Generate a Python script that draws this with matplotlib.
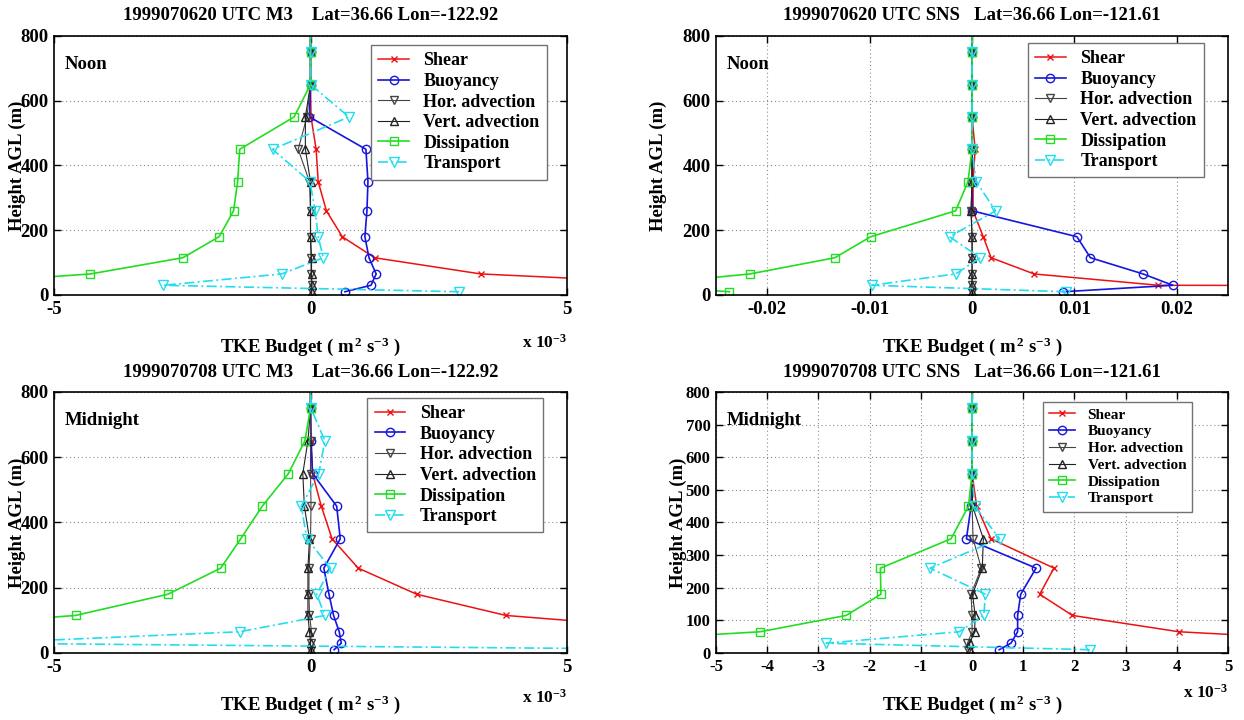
import matplotlib
matplotlib.use('Agg')
import matplotlib.pyplot as plt
from matplotlib.ticker import FuncFormatter
import numpy as np

plt.rcParams['font.family'] = ['Liberation Serif', 'DejaVu Serif']
plt.rcParams['font.weight'] = 'bold'
plt.rcParams['axes.unicode_minus'] = False
plt.rcParams['mathtext.fontset'] = 'custom'
plt.rcParams['mathtext.rm'] = 'Liberation Serif:bold'
plt.rcParams['mathtext.it'] = 'Liberation Serif:bold'
plt.rcParams['mathtext.bf'] = 'Liberation Serif:bold'
plt.rcParams['mathtext.default'] = 'rm'

# model levels (m AGL); the last one is above the plotted range
heights = [10, 30, 65, 115, 180, 260, 350, 450, 550, 650, 750, 850]

# M3 noon, units of 1e-3 m2 s-3
m3_noon_shear = [12.0, 8.0, 3.32, 1.25, 0.62, 0.31, 0.15, 0.11, 0.01, 0.0, 0.0, 0.0]
m3_noon_buoy = [0.67, 1.18, 1.28, 1.14, 1.06, 1.10, 1.12, 1.08, -0.02, 0.0, 0.0, 0.0]
m3_noon_hadv = [0.02, 0.02, 0.01, 0.01, 0.0, 0.0, -0.02, -0.24, -0.07, 0.0, 0.0, 0.0]
m3_noon_vadv = [0.02, 0.03, 0.02, 0.02, 0.0, 0.0, 0.0, -0.10, -0.10, 0.0, 0.0, 0.0]
m3_noon_diss = [-12.0, -7.4, -4.29, -2.49, -1.78, -1.50, -1.42, -1.38, -0.32, 0.0, 0.0, 0.0]
m3_noon_trans = [2.9, -2.87, -0.56, 0.25, 0.15, 0.09, -0.01, -0.74, 0.75, 0.0, 0.0, 0.0]

# SNS noon, m2 s-3
sns_noon_shear = [0.40, 0.0182, 0.00605, 0.00186, 0.00109, 0.0001, 0.0001, 0.0003, 0.0, 0.0, 0.0, 0.0]
sns_noon_buoy = [0.0089, 0.0196, 0.0167, 0.01156, 0.01024, 0.0, 0.0, 0.0, 0.0, 0.0, 0.0, 0.0]
sns_noon_hadv = [0.0, 0.0, 0.0, 0.0, 0.0, -0.0001, 0.0, 0.0, 0.0, 0.0, 0.0, 0.0]
sns_noon_vadv = [0.0, 0.0, 0.0, 0.0, 0.0, -0.0001, 0.0, 0.0, 0.0, 0.0, 0.0, 0.0]
sns_noon_diss = [-0.0237, -0.033, -0.0217, -0.0134, -0.0099, -0.0016, -0.0004, 0.0, 0.0, 0.0, 0.0, 0.0]
sns_noon_trans = [0.0092, -0.0098, -0.0016, 0.0008, -0.0022, 0.0023, 0.0004, 0.0, 0.0, 0.0, 0.0, 0.0]

# M3 midnight, units of 1e-3 m2 s-3
m3_night_shear = [15.0, 12.0, 7.8, 3.81, 2.07, 0.93, 0.42, 0.21, 0.04, 0.01, 0.0, 0.0]
m3_night_buoy = [0.46, 0.60, 0.56, 0.45, 0.36, 0.26, 0.58, 0.51, 0.04, 0.01, 0.0, 0.0]
m3_night_hadv = [0.0, 0.0, 0.02, -0.02, -0.03, -0.03, 0.0, 0.01, 0.0, 0.0, 0.0, 0.0]
m3_night_vadv = [0.0, 0.0, -0.02, -0.05, -0.05, -0.05, -0.02, -0.12, -0.15, -0.05, 0.0, 0.0]
m3_night_diss = [-16.0, -13.0, -8.8, -4.58, -2.78, -1.75, -1.36, -0.94, -0.43, -0.11, 0.0, 0.0]
m3_night_trans = [8.0, -6.45, -1.38, 0.28, 0.12, 0.39, -0.07, -0.18, 0.16, 0.28, 0.01, 0.0]

# SNS midnight, units of 1e-3 m2 s-3
sns_night_shear = [12.0, 8.2, 4.04, 1.96, 1.32, 1.60, 0.37, 0.09, 0.0, 0.0, 0.0, 0.0]
sns_night_buoy = [0.53, 0.76, 0.89, 0.89, 0.95, 1.25, -0.11, -0.02, 0.0, 0.0, 0.0, 0.0]
sns_night_hadv = [-0.08, -0.09, 0.0, 0.0, -0.02, 0.18, 0.02, 0.0, 0.0, 0.0, 0.0, 0.0]
sns_night_vadv = [-0.04, -0.05, 0.05, 0.06, 0.01, 0.20, 0.22, 0.01, 0.0, 0.0, 0.0, 0.0]
sns_night_diss = [-12.0, -7.9, -4.14, -2.46, -1.78, -1.79, -0.41, -0.07, 0.0, 0.0, 0.0, 0.0]
sns_night_trans = [2.3, -2.85, -0.25, 0.23, 0.26, -0.82, 0.54, 0.05, 0.0, 0.0, 0.0, 0.0]

names = ['Shear', 'Buoyancy', 'Hor. advection', 'Vert. advection', 'Dissipation', 'Transport']
colors = ['#ee1111', '#1515dd', '#444444', '#222222', '#22dd22', '#22ddee']
markers = ['x', 'o', 'v', '^', 's', 'v']
msizes = [5, 6, 6, 6, 5.5, 6.5]
styles = ['-', '-', '-', '-', '-', (0, (6, 2, 1.2, 2))]
lwidths = [1.1, 1.2, 0.8, 0.8, 1.2, 1.2]

xlab = 'TKE Budget ( m$^{\\,2}$ s$^{-3}$ )'
ylab = 'Height AGL (m)'
FS = 13.5


def panel(pos, series, title, tag, xlim, xticks, yticks, xgrid, leg_anchor, leg_fs,
          tick_fs, ylab_x, title_y, sci_y, fmt):
    ax = fig.add_axes(pos)
    for i in range(6):
        ax.plot(series[i], heights, color=colors[i], marker=markers[i], ms=msizes[i],
                mfc='none', mew=1.0, lw=lwidths[i], ls=styles[i], label=names[i],
                clip_on=True)
    ax.set_xlim(xlim)
    ax.set_ylim(0, 800)
    ax.set_xticks(xticks)
    ax.set_yticks(yticks)
    ax.xaxis.set_major_formatter(FuncFormatter(fmt))
    ax.tick_params(direction='in', top=True, right=True, length=5, width=1,
                   labelsize=tick_fs, pad=4)
    for s in ax.spines.values():
        s.set_linewidth(1.2)
    ax.grid(axis='y', ls=(0, (1, 2.5)), color='0.55', lw=0.8)
    if xgrid:
        ax.grid(axis='x', ls=(0, (1, 2.5)), color='0.55', lw=0.8)
    ax.set_title(title, fontsize=FS, fontweight='bold', y=title_y, pad=0)
    ax.text(0.02, 0.89, tag, transform=ax.transAxes, fontsize=FS, fontweight='bold',
            va='center')
    ax.set_xlabel(xlab, fontsize=FS, fontweight='bold', va='center')
    ax.xaxis.set_label_coords(0.5, -0.2)
    ax.set_ylabel(ylab, fontsize=FS, fontweight='bold', va='center')
    ax.yaxis.set_label_coords(ylab_x, 0.5)
    if sci_y is not None:
        ax.text(1.0, sci_y, 'x 10$^{-3}$', transform=ax.transAxes, ha='right',
                va='baseline', fontsize=FS - 1, fontweight='bold')
    leg = ax.legend(loc='upper left', bbox_to_anchor=leg_anchor, borderaxespad=0,
                    fontsize=leg_fs, fancybox=False, framealpha=1, edgecolor='0.45',
                    handlelength=1.7, labelspacing=0.2, borderpad=0.4,
                    handletextpad=0.8, numpoints=1)
    leg.get_frame().set_linewidth(1.0)
    return ax


fig = plt.figure(figsize=(12.44, 7.2), dpi=100)

f_int = lambda v, p: '%g' % v
f_small = lambda v, p: '0' if abs(v) < 1e-12 else '%g' % v

panel([0.0434, 0.5903, 0.4124, 0.3597],
      [m3_noon_shear, m3_noon_buoy, m3_noon_hadv, m3_noon_vadv, m3_noon_diss, m3_noon_trans],
      '1999070620 UTC M3    Lat=36.66 Lon=-122.92', 'Noon',
      (-5, 5), [-5, 0, 5], [0, 200, 400, 600, 800], False, (0.618, 0.965), 13,
      FS, -0.072, 1.062, -0.205, f_int)

panel([0.5756, 0.5903, 0.4116, 0.3597],
      [sns_noon_shear, sns_noon_buoy, sns_noon_hadv, sns_noon_vadv, sns_noon_diss, sns_noon_trans],
      '1999070620 UTC SNS   Lat=36.66 Lon=-121.61', 'Noon',
      (-0.025, 0.025), [-0.02, -0.01, 0, 0.01, 0.02], [0, 200, 400, 600, 800], True,
      (0.609, 0.973), 13, FS, -0.113, 1.062, None, f_small)

panel([0.0434, 0.0931, 0.4124, 0.3625],
      [m3_night_shear, m3_night_buoy, m3_night_hadv, m3_night_vadv, m3_night_diss, m3_night_trans],
      '1999070708 UTC M3    Lat=36.66 Lon=-122.92', 'Midnight',
      (-5, 5), [-5, 0, 5], [0, 200, 400, 600, 800], False, (0.611, 0.977), 13,
      FS, -0.072, 1.057, -0.19, f_int)

panel([0.5756, 0.0931, 0.4116, 0.3625],
      [sns_night_shear, sns_night_buoy, sns_night_hadv, sns_night_vadv, sns_night_diss, sns_night_trans],
      '1999070708 UTC SNS   Lat=36.66 Lon=-121.61', 'Midnight',
      (-5, 5), list(range(-5, 6)), list(range(0, 801, 100)), True, (0.639, 0.962), 11,
      12, -0.074, 1.057, -0.172, f_int)

fig.savefig('out.png', dpi=100)
